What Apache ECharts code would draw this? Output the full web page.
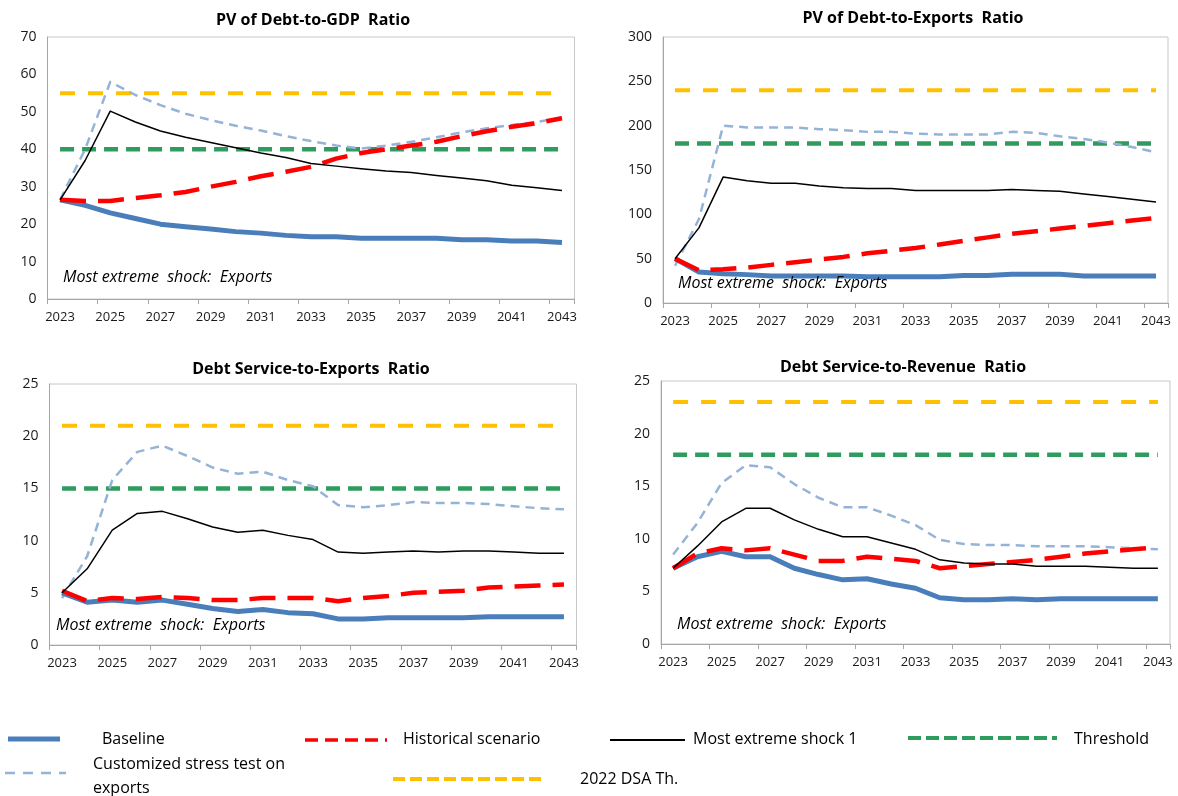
<!DOCTYPE html>
<html>
<head>
<meta charset="utf-8">
<title>Debt sustainability stress tests</title>
<script src="https://cdn.jsdelivr.net/npm/echarts@6/dist/echarts.min.js"></script>
<style>
  html, body { margin: 0; padding: 0; background: #ffffff; }
  #chart { width: 1178px; height: 796px; }
</style>
</head>
<body>
<div id="chart"></div>
<script>
// Projection years
const years = ['2023','2024','2025','2026','2027','2028','2029','2030','2031','2032','2033',
               '2034','2035','2036','2037','2038','2039','2040','2041','2042','2043'];

// PV of debt-to-GDP ratio
const gdpBaseline   = [26.5, 25.0, 23.0, 21.5, 20.0, 19.3, 18.7, 18.0, 17.6, 17.0, 16.6, 16.6, 16.2, 16.2, 16.2, 16.2, 15.8, 15.8, 15.5, 15.5, 15.1];
const gdpHistorical = [26.5, 26.2, 26.2, 27.0, 27.7, 28.6, 30.0, 31.3, 32.8, 34.0, 35.3, 37.5, 39.0, 40.0, 41.0, 42.0, 43.5, 44.8, 46.0, 47.0, 48.3];
const gdpShock      = [26.5, 37.0, 50.2, 47.3, 44.9, 43.2, 41.8, 40.4, 39.0, 37.8, 36.2, 35.5, 34.8, 34.2, 33.8, 33.0, 32.3, 31.6, 30.4, 29.7, 29.0];
const gdpCustom     = [26.5, 40.0, 58.0, 54.5, 51.8, 49.5, 47.8, 46.3, 45.0, 43.5, 42.2, 41.0, 40.2, 41.0, 42.0, 43.2, 44.5, 45.6, 46.5, 47.3, 48.5];
const gdpThreshold  = [40, 40, 40, 40, 40, 40, 40, 40, 40, 40, 40, 40, 40, 40, 40, 40, 40, 40, 40, 40, 40];
const gdpDsa2022    = [55, 55, 55, 55, 55, 55, 55, 55, 55, 55, 55, 55, 55, 55, 55, 55, 55, 55, 55, 55, 55];

// PV of debt-to-exports ratio
const expBaseline   = [50, 35, 33, 32, 30.5, 30.5, 30.5, 30.5, 29.5, 29.5, 29.5, 29.5, 31, 31, 32.5, 32.5, 32.5, 30.5, 30.5, 30.5, 30.5];
const expHistorical = [50, 37, 38, 40, 43, 46, 49, 52, 56, 59, 62, 66, 70, 74, 78, 81, 84, 87, 90, 93, 96];
const expShock      = [50, 85, 142, 138, 135, 135, 132, 130, 129, 129, 127, 127, 127, 127, 128, 127, 126, 123, 120, 117, 114];
const expCustom     = [42, 95, 200, 198, 198, 198, 196, 195, 193, 193, 191, 190, 190, 190, 193, 192, 188, 185, 181, 176, 170];
const expThreshold  = [180, 180, 180, 180, 180, 180, 180, 180, 180, 180, 180, 180, 180, 180, 180, 180, 180, 180, 180, 180, 180];
const expDsa2022    = [240, 240, 240, 240, 240, 240, 240, 240, 240, 240, 240, 240, 240, 240, 240, 240, 240, 240, 240, 240, 240];

// Debt service-to-exports ratio
const dseBaseline   = [5.0, 4.1, 4.3, 4.1, 4.3, 3.9, 3.5, 3.2, 3.4, 3.1, 3.0, 2.5, 2.5, 2.6, 2.6, 2.6, 2.6, 2.7, 2.7, 2.7, 2.7];
const dseHistorical = [5.2, 4.2, 4.5, 4.4, 4.6, 4.5, 4.3, 4.3, 4.5, 4.5, 4.5, 4.2, 4.5, 4.7, 5.0, 5.1, 5.2, 5.5, 5.6, 5.7, 5.8];
const dseShock      = [5.0, 7.3, 11.0, 12.6, 12.8, 12.1, 11.3, 10.8, 11.0, 10.5, 10.1, 8.9, 8.8, 8.9, 9.0, 8.9, 9.0, 9.0, 8.9, 8.8, 8.8];
const dseCustom     = [4.5, 8.5, 15.8, 18.5, 19.1, 18.1, 17.0, 16.4, 16.6, 15.8, 15.2, 13.4, 13.2, 13.4, 13.7, 13.6, 13.6, 13.5, 13.3, 13.1, 13.0];
const dseThreshold  = [15, 15, 15, 15, 15, 15, 15, 15, 15, 15, 15, 15, 15, 15, 15, 15, 15, 15, 15, 15, 15];
const dseDsa2022    = [21, 21, 21, 21, 21, 21, 21, 21, 21, 21, 21, 21, 21, 21, 21, 21, 21, 21, 21, 21, 21];

// Debt service-to-revenue ratio
const dsrBaseline   = [7.2, 8.3, 8.8, 8.3, 8.3, 7.2, 6.6, 6.1, 6.2, 5.7, 5.3, 4.4, 4.2, 4.2, 4.3, 4.2, 4.3, 4.3, 4.3, 4.3, 4.3];
const dsrHistorical = [7.2, 8.6, 9.1, 8.9, 9.1, 8.5, 7.9, 7.9, 8.3, 8.1, 7.9, 7.2, 7.4, 7.6, 7.8, 8.0, 8.3, 8.6, 8.8, 9.0, 9.2];
const dsrShock      = [7.2, 9.3, 11.6, 12.9, 12.9, 11.8, 10.9, 10.2, 10.2, 9.6, 9.0, 8.0, 7.7, 7.6, 7.6, 7.4, 7.4, 7.4, 7.3, 7.2, 7.2];
const dsrCustom     = [8.5, 11.5, 15.3, 17.0, 16.8, 15.2, 13.9, 13.0, 13.0, 12.2, 11.3, 9.9, 9.5, 9.4, 9.4, 9.3, 9.3, 9.3, 9.2, 9.1, 9.0];
const dsrThreshold  = [18, 18, 18, 18, 18, 18, 18, 18, 18, 18, 18, 18, 18, 18, 18, 18, 18, 18, 18, 18, 18];
const dsrDsa2022    = [23, 23, 23, 23, 23, 23, 23, 23, 23, 23, 23, 23, 23, 23, 23, 23, 23, 23, 23, 23, 23];

// Panel titles and y-axis ranges
const panelTitles = ['PV of Debt-to-GDP  Ratio', 'PV of Debt-to-Exports  Ratio',
                     'Debt Service-to-Exports  Ratio', 'Debt Service-to-Revenue  Ratio'];
const yMax      = [70, 300, 25, 25];
const yInterval = [10, 50, 5, 5];
const shockNote = 'Most extreme  shock:  Exports';

const FONT = '"Open Sans", "Noto Sans", sans-serif';

const COLORS = {
  baseline: '#4a7ebb',
  historical: '#ff0000',
  shock: '#000000',
  custom: '#95b3d7',
  threshold: '#2f9b5f',
  dsa: '#ffc000'
};

// Line styles used inside the plots
const STYLES = {
  dsa:        { color: COLORS.dsa, width: 4, type: [15, 13] },
  threshold:  { color: COLORS.threshold, width: 4.5, type: [14, 8] },
  custom:     { color: COLORS.custom, width: 2.5, type: [9, 6] },
  baseline:   { color: COLORS.baseline, width: 5, type: 'solid' },
  historical: { color: COLORS.historical, width: 4.5, type: [26, 12] },
  shock:      { color: COLORS.shock, width: 1.5, type: 'solid' }
};

// Legend swatches use a finer dash pattern
const LEGEND_STYLES = {
  dsa:        { color: COLORS.dsa, width: 4, dash: [12, 5] },
  threshold:  { color: COLORS.threshold, width: 4, dash: [13, 5] },
  custom:     { color: COLORS.custom, width: 2.5, dash: [10, 8] },
  baseline:   { color: COLORS.baseline, width: 5, dash: null },
  historical: { color: COLORS.historical, width: 3.5, dash: [13, 7] },
  shock:      { color: COLORS.shock, width: 2, dash: null }
};

const panelData = [
  { baseline: gdpBaseline, historical: gdpHistorical, shock: gdpShock, custom: gdpCustom, threshold: gdpThreshold, dsa: gdpDsa2022 },
  { baseline: expBaseline, historical: expHistorical, shock: expShock, custom: expCustom, threshold: expThreshold, dsa: expDsa2022 },
  { baseline: dseBaseline, historical: dseHistorical, shock: dseShock, custom: dseCustom, threshold: dseThreshold, dsa: dseDsa2022 },
  { baseline: dsrBaseline, historical: dsrHistorical, shock: dsrShock, custom: dsrCustom, threshold: dsrThreshold, dsa: dsrDsa2022 }
];

// Plot rectangles for the 2x2 layout
const grids = [
  { left: 47.5, top: 37,  width: 527, height: 262 },
  { left: 663,  top: 37,  width: 505, height: 266 },
  { left: 49.5, top: 384, width: 527, height: 261 },
  { left: 661,  top: 381, width: 509, height: 263 }
];

const titlePos = [[313, 20], [913, 18], [311, 369], [903, 367]];
const notePos  = [[63, 277], [678, 283], [56, 625], [677, 624]];

const drawOrder = ['dsa', 'threshold', 'custom', 'baseline', 'historical', 'shock'];

const option = {
  animation: false,
  backgroundColor: '#ffffff',
  grid: grids.map(g => Object.assign({
    show: true, borderColor: '#c8c8c8', borderWidth: 1, backgroundColor: 'transparent', containLabel: false
  }, g)),
  xAxis: grids.map((g, i) => ({
    type: 'category',
    gridIndex: i,
    data: years,
    boundaryGap: true,
    axisLine: { lineStyle: { color: '#a6a6a6', width: 1 } },
    axisTick: { show: true, interval: 1, length: 5, lineStyle: { color: '#a6a6a6' } },
    axisLabel: { interval: 1, margin: 12, color: '#1a1a1a', fontSize: 13, fontFamily: FONT },
    splitLine: { show: false }
  })),
  yAxis: grids.map((g, i) => ({
    type: 'value',
    gridIndex: i,
    min: 0,
    max: yMax[i],
    interval: yInterval[i],
    axisLine: { show: true, lineStyle: { color: '#a6a6a6', width: 1 } },
    axisTick: { show: false },
    axisLabel: { margin: 11, color: '#1a1a1a', fontSize: 14, fontFamily: FONT },
    splitLine: { show: false }
  })),
  series: [],
  graphic: []
};

panelData.forEach((pd, i) => {
  drawOrder.forEach(key => {
    option.series.push({
      type: 'line',
      name: key,
      xAxisIndex: i,
      yAxisIndex: i,
      data: pd[key],
      symbol: 'none',
      smooth: false,
      lineStyle: Object.assign({ cap: 'butt', join: 'round' }, STYLES[key]),
      silent: true
    });
  });
});

// Panel titles and shock notes
panelTitles.forEach((t, i) => {
  option.graphic.push({
    type: 'text',
    style: {
      text: t, x: titlePos[i][0], y: titlePos[i][1],
      textAlign: 'center', textVerticalAlign: 'middle',
      font: 'bold 16px ' + FONT, fill: '#000000'
    }
  });
  option.graphic.push({
    type: 'text',
    z: 100,
    style: {
      text: shockNote, x: notePos[i][0], y: notePos[i][1],
      textAlign: 'left', textVerticalAlign: 'middle',
      font: 'italic 16px ' + FONT, fill: '#000000'
    }
  });
});

// Legend drawn as line swatches with labels
function swatch(key, x1, x2, y) {
  const s = LEGEND_STYLES[key];
  return {
    type: 'line',
    shape: { x1: x1, y1: y, x2: x2, y2: y },
    style: { stroke: s.color, lineWidth: s.width, lineDash: s.dash }
  };
}
function label(text, x, y) {
  return {
    type: 'text',
    style: { text: text, x: x, y: y, textAlign: 'left', textVerticalAlign: 'middle',
             font: '16px ' + FONT, fill: '#000000' }
  };
}
option.graphic.push(
  swatch('baseline', 8, 60, 739),      label('Baseline', 102, 739),
  swatch('historical', 305, 387, 740), label('Historical scenario', 403, 739),
  swatch('shock', 610, 685, 740),      label('Most extreme shock 1', 693, 739),
  swatch('threshold', 908, 1057, 738), label('Threshold', 1074, 739),
  swatch('custom', 5, 66, 773),        label('Customized stress test on', 93, 764), label('exports', 93, 788),
  swatch('dsa', 393, 542, 779),        label('2022 DSA Th.', 580, 779)
);

const chart = echarts.init(document.getElementById('chart'), null, { renderer: 'canvas' });
chart.setOption(option);
</script>
</body>
</html>
